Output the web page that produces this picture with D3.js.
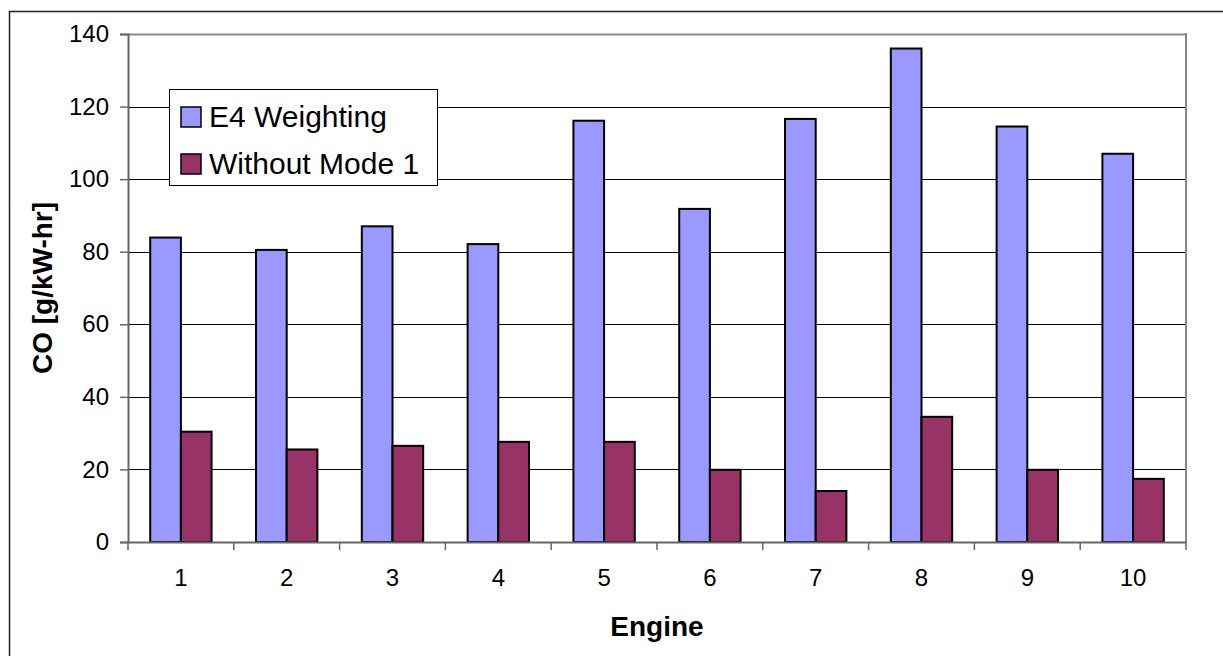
<!DOCTYPE html>
<html>
<head>
<meta charset="utf-8">
<script src="https://cdn.jsdelivr.net/npm/d3@7"></script>
<style>
  html, body { margin: 0; padding: 0; background: #fff; }
  svg { display: block; font-family: "Liberation Sans", Arial, sans-serif; }
</style>
</head>
<body>
<svg id="chart" width="1223" height="656"></svg>
<script>
const categories = ["1", "2", "3", "4", "5", "6", "7", "8", "9", "10"];
const seriesNames = ["E4 Weighting", "Without Mode 1"];
const e4Weighting = [83.9, 80.5, 87.0, 82.1, 116.1, 91.8, 116.6, 136.0, 114.5, 107.0];
const withoutMode1 = [30.4, 25.5, 26.5, 27.6, 27.6, 19.9, 14.05, 34.5, 19.9, 17.4];
const yTicks = [0, 20, 40, 60, 80, 100, 120, 140];
const colors = ["#9999FF", "#993366"];

const svg = d3.select("#chart");
const plot = { left: 128, right: 1186, top: 34, bottom: 542 };

// outer border (extends past the viewport on right and bottom)
svg.append("rect")
  .attr("x", 9.5).attr("y", 11.5)
  .attr("width", 1240).attr("height", 700)
  .attr("fill", "none").attr("stroke", "#222").attr("stroke-width", 1.5);

const x = d3.scaleBand().domain(categories)
  .range([plot.left, plot.right]).paddingInner(0.42).paddingOuter(0.21);
const xs = d3.scaleBand().domain(seriesNames).range([0, x.bandwidth()]);
const y = d3.scaleLinear().domain([0, 140]).range([plot.bottom, plot.top]);

// gridlines
svg.append("g").selectAll("line").data(yTicks.filter(d => d > 0)).join("line")
  .attr("x1", plot.left).attr("x2", plot.right)
  .attr("y1", d => Math.round(y(d)) + 0.5).attr("y2", d => Math.round(y(d)) + 0.5)
  .attr("stroke", d => d === 140 ? "#888" : "#000")
  .attr("stroke-width", d => d === 140 ? 2 : 1.2);

// right border of plot area
svg.append("line")
  .attr("x1", plot.right).attr("x2", plot.right)
  .attr("y1", plot.top - 1).attr("y2", plot.bottom)
  .attr("stroke", "#888").attr("stroke-width", 2);

// bars
const data = categories.map((c, i) => ({ c, vals: [e4Weighting[i], withoutMode1[i]] }));
const groups = svg.append("g").selectAll("g").data(data).join("g")
  .attr("transform", d => `translate(${x(d.c)},0)`);
groups.selectAll("rect").data(d => d.vals.map((v, j) => ({ v, j }))).join("rect")
  .attr("x", d => xs(seriesNames[d.j]))
  .attr("width", xs.bandwidth())
  .attr("y", d => y(d.v))
  .attr("height", d => y(0) - y(d.v))
  .attr("fill", d => colors[d.j])
  .attr("stroke", "#000").attr("stroke-width", 2);

// y axis
const yAxis = svg.append("g").attr("transform", `translate(${plot.left},0)`)
  .call(d3.axisLeft(y).tickValues(yTicks).tickSize(8).tickPadding(11).tickFormat(d3.format("d")));
yAxis.select(".domain").attr("stroke", "#666").attr("stroke-width", 2);
yAxis.selectAll(".tick line").attr("stroke", "#666").attr("stroke-width", 1.5);
yAxis.selectAll(".tick text").attr("font-size", 24).attr("fill", "#000")
  .attr("font-family", "Liberation Sans, Arial, sans-serif");

// x axis
const xAxis = svg.append("g").attr("transform", `translate(0,${plot.bottom})`)
  .call(d3.axisBottom(x).tickSize(0).tickPadding(27));
xAxis.select(".domain").attr("stroke", "#666").attr("stroke-width", 2);
xAxis.selectAll(".tick text").attr("font-size", 24).attr("fill", "#000")
  .attr("font-family", "Liberation Sans, Arial, sans-serif");
// category boundary ticks
const bounds = categories.map(c => x(c) - x.step() * x.paddingInner() / 2)
  .concat([plot.right]);
xAxis.append("g").selectAll("line").data(bounds).join("line")
  .attr("x1", d => d).attr("x2", d => d)
  .attr("y1", 0).attr("y2", 8)
  .attr("stroke", "#666").attr("stroke-width", 1.5);

// axis titles
svg.append("text")
  .attr("transform", `translate(52,${(plot.top + plot.bottom) / 2}) rotate(-90)`)
  .attr("text-anchor", "middle")
  .attr("font-size", 28).attr("font-weight", "bold")
  .text("CO [g/kW-hr]");
svg.append("text")
  .attr("x", (plot.left + plot.right) / 2).attr("y", 636)
  .attr("text-anchor", "middle")
  .attr("font-size", 28).attr("font-weight", "bold")
  .text("Engine");

// legend
const legend = svg.append("g");
legend.append("rect")
  .attr("x", 169.5).attr("y", 89.5).attr("width", 268).attr("height", 96)
  .attr("fill", "#fff").attr("stroke", "#000").attr("stroke-width", 1);
seriesNames.forEach((name, i) => {
  const cy = 117 + i * 47;
  legend.append("rect")
    .attr("x", 181).attr("y", cy - 10).attr("width", 20).attr("height", 20)
    .attr("fill", colors[i]).attr("stroke", "#000").attr("stroke-width", 1.5);
  legend.append("text")
    .attr("x", 209).attr("y", cy + 10)
    .attr("font-size", 30).attr("fill", "#000")
    .text(name);
});
</script>
</body>
</html>
